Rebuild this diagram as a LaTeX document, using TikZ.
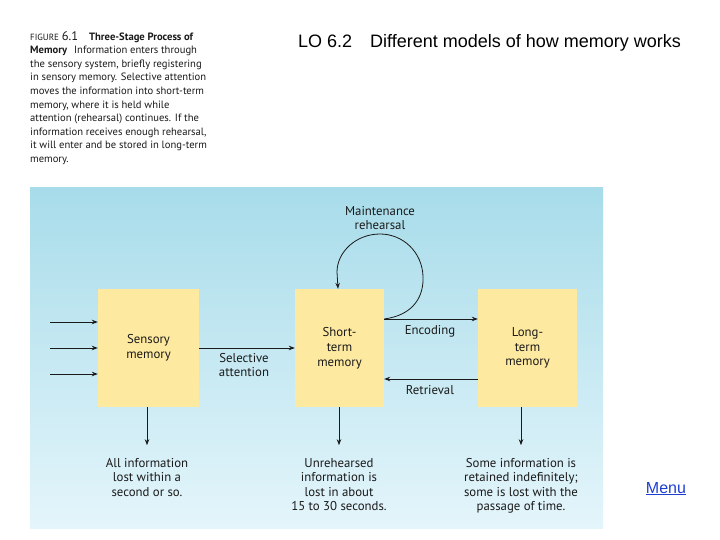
\documentclass[tikz,border=0pt]{standalone}
\usepackage{fontspec}
\setmainfont{PT Sans}
\newfontfamily\arialf{Liberation Sans}
\usetikzlibrary{arrows.meta}
\definecolor{panTop}{HTML}{A8DCEA}
\definecolor{panBot}{HTML}{E4F5FB}
\definecolor{boxY}{HTML}{FDE9A0}
\definecolor{txt}{HTML}{1A1A1A}
\definecolor{linkblue}{HTML}{1F3FD0}
\tikzset{
  membox/.style={draw=none,fill=boxY,minimum width=#1,minimum height=118pt,inner sep=0pt,align=center,font=\fontsize{12.8}{14.8}\selectfont,text=txt},
  lbl/.style={align=center,font=\fontsize{12.8}{14.5}\selectfont,text=txt,inner sep=0pt},
  arr/.style={draw=txt,line width=0.8pt,-{Stealth[length=6pt,width=4.5pt]}},
}
\begin{document}
\begin{tikzpicture}[x=1pt,y=-1pt]
\useasboundingbox (0,0) rectangle (720,540);
\fill[white] (0,0) rectangle (720,540);
% caption
\node[anchor=north west,align=left,inner sep=0pt,text=txt,font=\fontsize{10.6}{13.6}\selectfont] (cap) at (30,31)
{{\fontsize{9}{13.6}\selectfont FIGURE} {\fontsize{12.5}{13.6}\selectfont 6.1}\hspace{11pt}\textbf{Three-Stage Process of}\\
\textbf{Memory}\hspace{7pt}Information enters through\\
the sensory system, briefly registering\\
in sensory memory. Selective attention\\
moves the information into short-term\\
memory, where it is held while\\
attention (rehearsal) continues. If the\\
information receives enough rehearsal,\\
it will enter and be stored in long-term\\
memory.};
% title
\node[anchor=base west,inner sep=0pt,font=\arialf\fontsize{18}{20}\selectfont] (title) at (298,48) {LO 6.2\hspace{18pt}Different models of how memory works};
% panel
\shade[top color=panTop,bottom color=panBot] (30,188) rectangle (603,528);
% boxes
\node[membox=101pt] (sm) at (148.5,348) {Sensory\\memory};
\node[membox=89pt] (st) at (339.5,348) {Short-\\term\\memory};
\node[membox=99pt] (lt) at (527.5,348) {Long-\\term\\memory};
% inputs
\coordinate (in1) at (50,322);
\coordinate (in2) at (50,348);
\coordinate (in3) at (50,374);
\foreach \c in {in1,in2,in3} \draw[arr] (\c) -- (\c -| sm.west);
% selective attention
\draw[arr] (sm.east) -- (st.west);
\node[lbl] (sel) at (244,365) {Selective\\attention};
% encoding / retrieval
\draw[arr] ([yshift=29pt]st.east) -- ([yshift=29pt]lt.west);
\node[lbl] (enc) at (430,331) {Encoding};
\draw[arr] ([yshift=-31pt]lt.west) -- ([yshift=-31pt]st.east);
\node[lbl] (ret) at (430,390) {Retrieval};
% maintenance rehearsal loop
\node[lbl] (mr) at (380,218) {Maintenance\\rehearsal};
\coordinate (lp) at (338,289);
\draw[arr] ([yshift=29pt]st.east) .. controls (414,315) and (424,296) .. (423,276)
  .. controls (422,252) and (403,234) .. (380,234)
  .. controls (356,234) and (337,252) .. (337,272) -- (st.north -| lp);
% outputs
\node[lbl,anchor=north] (smo) at (147,458) {All information\\lost within a\\second or so.};
\node[lbl,anchor=north] (sto) at (339,458) {Unrehearsed\\information is\\lost in about\\15 to 30 seconds.};
\node[lbl,anchor=north] (lto) at (521,458) {Some information is\\retained indefinitely;\\some is lost with the\\passage of time.};
\draw[arr] (sm.south -| smo.north) -- ++(0,38);
\draw[arr] (st.south -| sto.north) -- ++(0,38);
\draw[arr] (lt.south -| lto.north) -- ++(0,38);
% menu link
\node[inner sep=0pt,anchor=base,font=\arialf\fontsize{16}{18}\selectfont,text=linkblue] (menu) at (666,493) {\underline{Menu}};
\end{tikzpicture}
\end{document}
